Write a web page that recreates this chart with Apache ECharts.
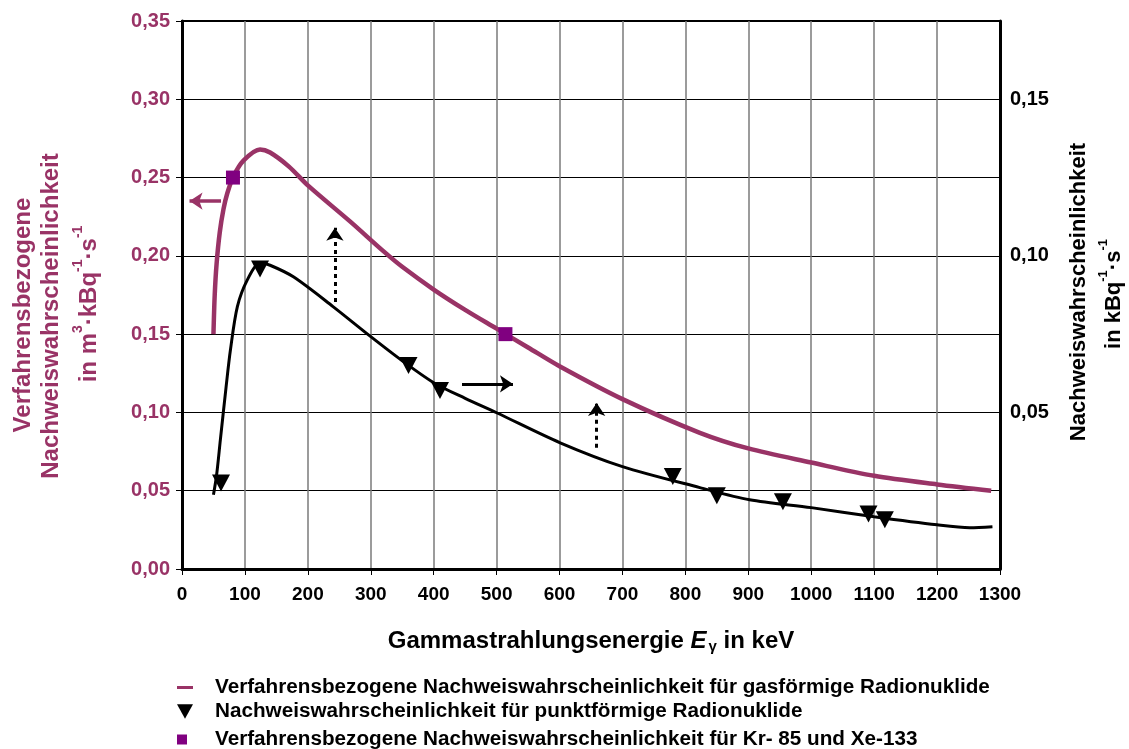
<!DOCTYPE html>
<html>
<head>
<meta charset="utf-8">
<script src="https://cdn.jsdelivr.net/npm/echarts@6/dist/echarts.min.js"></script>
<style>html,body{margin:0;padding:0;background:#fff}#c{width:1129px;height:749px}</style>
</head>
<body>
<div id="c"></div>
<script>
// ---- data ----
const xTicks = [0,100,200,300,400,500,600,700,800,900,1000,1100,1200,1300];
// gaseous radionuclides curve (left axis, m3/kBq/s)
const gasEnergy = [50,52,55,60,66,72,82,98,124,140,170,200,267,320,350,400,450,500,550,600,700,823,900,1000,1100,1200,1286];
const gasValue  = [0.150,0.175,0.195,0.215,0.230,0.240,0.251,0.261,0.268,0.266,0.257,0.245,0.222,0.203,0.193,0.1785,0.1655,0.1535,0.1415,0.1295,0.1085,0.087,0.077,0.068,0.0595,0.054,0.050];
// point sources curve (right axis, 1/kBq/s)
const pointEnergy = [50,55,61,70,77,88,104,124,140,177,240,300,350,400,450,500,601,700,823,902,1000,1100,1200,1252,1288];
const pointValue  = [0.0237,0.030,0.0413,0.058,0.070,0.0838,0.0924,0.0978,0.0970,0.0933,0.0838,0.0742,0.0665,0.0595,0.0545,0.0499,0.0403,0.0327,0.026,0.0221,0.0196,0.0167,0.0141,0.0132,0.0135];
// measured point-source markers (right axis)
const triEnergy = [62,124,360,410,780,850,955,1091,1117];
const triValue  = [0.0275,0.0958,0.065,0.057,0.0295,0.0234,0.0215,0.0176,0.0157];
// Kr-85 / Xe-133 markers (left axis)
const sqEnergy = [81,514];
const sqValue  = [0.25,0.15];

const nameGas = 'Verfahrensbezogene Nachweiswahrscheinlichkeit für gasförmige Radionuklide';
const namePoint = 'Nachweiswahrscheinlichkeit für punktförmige Radionuklide';
const nameKr = 'Verfahrensbezogene Nachweiswahrscheinlichkeit für Kr- 85 und Xe-133';

const MAG = '#993366';
const FONT = '"Liberation Sans", Arial, sans-serif';
const zip = (a,b) => a.map((v,i)=>[v,b[i]]);
const fmt = v => v.toFixed(2).replace('.', ',');

const chart = echarts.init(document.getElementById('c'));
const legendText = {fontFamily: FONT, fontWeight: 'bold', fontSize: 20.7, color: '#000', padding:[0,0,0,17]};
chart.setOption({
  animation: false,
  textStyle: {fontFamily: FONT, fontWeight: 'bold'},
  grid: {left: 182, right: 129, top: 21, bottom: 180, show: true, borderColor: '#000', borderWidth: 2},
  xAxis: {
    type: 'value', min: 0, max: 1300, interval: 100,
    name: '{a|Gammastrahlungsenergie }{e|E}{s|γ}{a| in keV}',
    nameLocation: 'middle', nameGap: 60,
    nameTextStyle: {rich: {
      a: {fontFamily: FONT, fontWeight: 'bold', fontSize: 24, color: '#000'},
      e: {fontFamily: FONT, fontWeight: 'bold', fontStyle: 'italic', fontSize: 24, color: '#000'},
      s: {fontFamily: FONT, fontWeight: 'bold', fontSize: 15, color: '#000', verticalAlign: 'bottom', padding:[10,0,0,2]}
    }},
    axisLine: {show: true, lineStyle: {color: '#000', width: 3}},
    axisTick: {show: true, length: 6, lineStyle: {color: '#000', width: 1}},
    axisLabel: {fontSize: 19, color: '#000', margin: 16, fontFamily: FONT, fontWeight: 'bold',
      formatter: v => String(xTicks.indexOf(v) >= 0 ? xTicks[xTicks.indexOf(v)] : v)},
    splitLine: {show: true, lineStyle: {color: '#7a7a7a', width: 1.5}}
  },
  yAxis: [{
    type: 'value', min: 0, max: 0.35, interval: 0.05,
    axisLine: {show: true, lineStyle: {color: '#000', width: 3}},
    axisTick: {show: true, length: 6, lineStyle: {color: '#000', width: 1}},
    axisLabel: {fontSize: 20, color: MAG, margin: 12, formatter: fmt, fontFamily: FONT, fontWeight: 'bold'},
    splitLine: {show: true, lineStyle: {color: '#000', width: 1}}
  }, {
    type: 'value', min: 0, max: 0.175, interval: 0.05,
    axisLine: {show: true, lineStyle: {color: '#000', width: 3}},
    axisTick: {show: false},
    axisLabel: {fontSize: 20, color: '#000', margin: 10, formatter: fmt, showMinLabel: false, showMaxLabel: false, fontFamily: FONT, fontWeight: 'bold'},
    splitLine: {show: false}
  }],
  legend: [
    {data: [nameGas], left: 172, top: 672, icon: 'rect', itemWidth: 16, itemHeight: 3, textStyle: legendText, selectedMode: false},
    {data: [namePoint], left: 172, top: 696, icon: 'path://M0,0 L10,0 L5,9 Z', itemWidth: 16, itemHeight: 15, textStyle: legendText, selectedMode: false},
    {data: [nameKr], left: 172, top: 724, icon: 'rect', itemWidth: 10, itemHeight: 10, textStyle: Object.assign({}, legendText, {padding:[0,0,0,23]}), selectedMode: false}
  ],
  graphic: [
    {type: 'text', x: 23, y: 315, rotation: Math.PI/2, style: {text: 'Verfahrensbezogene', fill: MAG, font: 'bold 24px ' + FONT, align: 'center', verticalAlign: 'middle'}},
    {type: 'text', x: 51, y: 316, rotation: Math.PI/2, style: {text: 'Nachweiswahrscheinlichkeit', fill: MAG, font: 'bold 24px ' + FONT, align: 'center', verticalAlign: 'middle'}},
    {type: 'text', x: 86, y: 304, rotation: Math.PI/2, style: {
      text: '{a|in m}{s|3}{a|·kBq}{s|-1}{a|·s}{s|-1}', align: 'center', verticalAlign: 'middle',
      rich: {
        a: {fill: MAG, fontFamily: FONT, fontWeight: 'bold', fontSize: 24, lineHeight: 30, verticalAlign: 'bottom'},
        s: {fill: MAG, fontFamily: FONT, fontWeight: 'bold', fontSize: 14, lineHeight: 30, verticalAlign: 'top'}
      }}},
    {type: 'text', x: 1079, y: 292, rotation: Math.PI/2, style: {text: 'Nachweiswahrscheinlichkeit', fill: '#000', font: 'bold 22px ' + FONT, align: 'center', verticalAlign: 'middle'}},
    {type: 'text', x: 1111, y: 294, rotation: Math.PI/2, style: {
      text: '{a|in kBq}{s|-1}{a|·s}{s|-1}', align: 'center', verticalAlign: 'middle',
      rich: {
        a: {fill: '#000', fontFamily: FONT, fontWeight: 'bold', fontSize: 22, lineHeight: 28, verticalAlign: 'bottom'},
        s: {fill: '#000', fontFamily: FONT, fontWeight: 'bold', fontSize: 13, lineHeight: 28, verticalAlign: 'top'}
      }}}
  ],
  series: [
    {
      name: nameGas, type: 'line', yAxisIndex: 0, smooth: 0.3, showSymbol: false,
      data: zip(gasEnergy, gasValue), lineStyle: {color: MAG, width: 4.5}, itemStyle: {color: MAG}, z: 3,
      markLine: {silent: true, symbol: ['none', 'arrow'], symbolSize: [13, 13], label: {show: false},
        lineStyle: {color: MAG, width: 3.5, type: 'solid'},
        data: [[{coord: [62, 0.235]}, {coord: [12, 0.235]}]]}
    },
    {
      name: 'curvePoint', type: 'line', yAxisIndex: 1, smooth: 0.3, showSymbol: false,
      data: zip(pointEnergy, pointValue), lineStyle: {color: '#000', width: 3}, itemStyle: {color: '#000'}, z: 3
    },
    {
      name: namePoint, type: 'scatter', yAxisIndex: 1, symbol: 'triangle', symbolRotate: 180, symbolSize: [18, 17],
      data: zip(triEnergy, triValue), itemStyle: {color: '#000', opacity: 1}, z: 5,
      markLine: {silent: true, symbol: ['none', 'arrow'], symbolSize: [13, 13], label: {show: false},
        data: [
          [{coord: [243, 0.0853], lineStyle: {color: '#000', width: 3, type: [4, 4]}}, {coord: [243, 0.109]}],
          [{coord: [659, 0.0387], lineStyle: {color: '#000', width: 3, type: [4, 4]}}, {coord: [659, 0.053]}],
          [{coord: [445, 0.0591], lineStyle: {color: '#000', width: 3, type: 'solid'}}, {coord: [526, 0.0591]}]
        ]}
    },
    {
      name: nameKr, type: 'scatter', yAxisIndex: 0, symbol: 'rect', symbolSize: 14,
      data: zip(sqEnergy, sqValue), itemStyle: {color: '#800080', opacity: 1}, z: 6
    }
  ]
});
</script>
</body>
</html>
